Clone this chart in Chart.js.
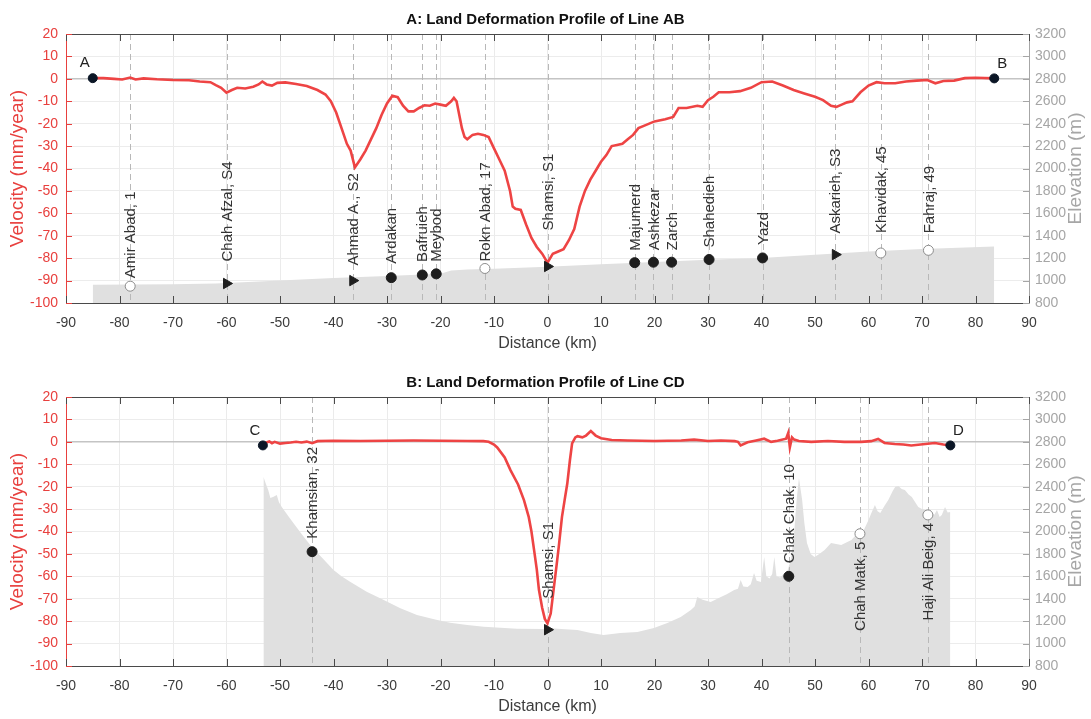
<!DOCTYPE html>
<html><head><meta charset="utf-8">
<script src="https://cdn.jsdelivr.net/npm/chart.js@4.4.1/dist/chart.umd.min.js"></script>
<style>
html,body{margin:0;padding:0;background:#fff;overflow:hidden;}
#wrap{position:relative;width:1091px;height:719px;overflow:hidden;background:#fff;}
.pane{position:absolute;left:0;width:1091px;height:363px;}
</style></head><body>
<div id="wrap">
<div class="pane" style="top:0"><canvas id="cA" width="1091" height="363"></canvas></div>
<div class="pane" style="top:363px"><canvas id="cB" width="1091" height="363"></canvas></div>
</div>
<script>
// ---------- tick labels ----------
const distanceTicks = [-90,-80,-70,-60,-50,-40,-30,-20,-10,0,10,20,30,40,50,60,70,80,90];
const velocityTicks = [-100,-90,-80,-70,-60,-50,-40,-30,-20,-10,0,10,20];
const elevationTicks = [800,1000,1200,1400,1600,1800,2000,2200,2400,2600,2800,3000,3200];

// ---------- Panel A: line AB ----------
const distanceAB = [-85,-83,-81,-79.5,-78,-77,-75.5,-73,-70,-67,-65,-63,-62,-61,-60,-59,-58,-56.5,-55,-54,-53.3,-52.5,-51.5,-50.5,-49,-47,-45,-43,-41.5,-40.5,-39.5,-38.5,-37.5,-36.8,-36,-35,-34,-33,-32,-31,-30,-29,-28,-27,-26,-25,-24,-23,-22,-21,-20,-19,-18,-17.5,-17,-16.5,-16,-15.5,-15,-14,-13,-12,-11,-10,-9,-8,-7,-6.5,-6,-5,-4,-3,-2,-1,0,1,2,3,4,5,6,7,8,9,10,11,12,13,14,15,16,17,18,20,22,23.5,24.5,26,28,29,30,31,32,34,36,38,40,42,44,46,48,50,51.5,53,54,55,56,57,58.5,60,61.5,63,65,67,69,71,72.5,74,76,78,80,83.5];
const velocityAB = [0.3,0.3,0,-0.3,0.6,-0.3,0.2,-0.2,-0.5,-0.6,-1.2,-1.5,-2.8,-4,-6.2,-5,-4,-4.3,-3.5,-2.5,-1.2,-2.5,-3,-1.8,-1.6,-2.3,-3.2,-5,-7,-10,-15,-22,-29,-32,-39.5,-36,-32,-27,-22,-16,-11,-7.5,-8.2,-12,-14.5,-14.5,-13,-11.8,-12,-11,-11.5,-12,-10,-8.5,-10,-16,-22,-26,-27,-25,-24.5,-25,-26,-31,-36,-41,-50,-57,-58,-58.5,-65,-71,-75,-78,-82,-78,-77,-76,-72,-67,-57,-50,-45,-41,-37,-34,-30,-29.5,-29,-27,-25,-22,-21,-19,-18,-17,-13,-13,-12,-12.5,-9.5,-8,-6,-6,-5.5,-4,-1.5,-1.2,-3,-5,-6.5,-8,-9.5,-12,-12.5,-11.5,-10.5,-10,-6,-3,-1.5,-2,-2,-1.2,-0.8,-0.5,-2,-1,-0.8,0.3,0.5,0.2];
const elevDistanceAB = [-85,-70,-62,-50,-40,-30,-20,-18,-15,-10,0,10,20,30,40,50,60,70,83.5];
const elevationAB = [963,968,975,1000,1023,1040,1060,1090,1100,1105,1124,1145,1165,1185,1201,1230,1260,1282,1305];
const stationNamesAB = ['Amir Abad, 1','Chah Afzal, S4','Ahmad A., S2','Ardakan','Bafruieh','Meybod','Rokn Abad, 17','Shamsi, S1','Majumerd','Ashkezar','Zarch','Shahedieh','Yazd','Askarieh, S3','Khavidak, 45','Fahraj, 49'];
const stationDistAB = [-78,-60,-36.4,-29.2,-23.4,-20.8,-11.7,0,16.3,19.8,23.2,30.2,40.2,53.8,62.3,71.2];
const stationVelAB = [-92.5,-91.3,-90,-88.7,-87.5,-87,-84.6,-83.7,-82,-81.8,-81.8,-80.6,-79.9,-78.4,-77.7,-76.5];
const stationTypeAB = ['open','tri','tri','dot','dot','dot','open','tri','dot','dot','dot','dot','dot','tri','open','open'];
const endpointNamesAB = ['A','B'];
const endpointDistAB = [-85,83.5];
const endpointVelAB = [0.3,0.2];

// ---------- Panel B: line CD ----------
const distanceCD = [-53.2,-52.5,-52,-51.5,-51,-50,-49,-48,-47,-46,-45,-44,-43,-40,-35,-30,-25,-20,-15,-12,-11,-10,-9.4,-8,-6.9,-5.5,-4.4,-3.5,-3,-2.5,-2,-1.6,-1,-0.5,0,0.6,1.2,1.7,2.1,2.7,3.2,3.7,4.2,4.6,5.2,5.6,6.5,7.2,8.1,9,10,12,15,20,25,27.4,30,32.4,35,35.6,36.1,37.4,39,40.5,41.8,43,44.6,45,45.3,45.7,46.1,47,49.3,52.4,55.5,58.6,60.5,61.8,63,64.9,66.5,68,70.6,72.4,74,75.3];
const velocityCD = [-1.6,-0.3,0.2,-0.6,0,-0.8,-0.5,-0.3,0,-0.3,0.1,-0.6,0.3,0.5,0.4,0.5,0.6,0.5,0.4,0.3,0,-1.2,-2.5,-7,-12.7,-19,-26,-33.6,-40,-48.4,-57,-66,-74,-79,-81,-76.6,-64.8,-55,-47,-33.6,-26,-18.6,-8,-0.7,2,2.5,2,2.8,4.8,2.8,1.6,0.8,0.6,0.4,0.6,1,0.4,0.6,0.3,0,-1.6,-0.2,0.6,1.4,0,0.5,1.4,4,-2.5,2,1,0.4,0,0.4,0,0,0.3,1.3,-0.5,-1,-1.2,-1.6,-1,-0.5,-1.2,-1.6];
const elevDistanceCD = [-53.1,-52.6,-52.2,-51.8,-51.2,-50.6,-50.2,-49.7,-48.5,-47.5,-46,-44.1,-42,-40,-38.5,-36.9,-33.8,-30.6,-27.5,-24.4,-21,-18.2,-15,-11.9,-8,-5.7,-0.7,0,2.6,5.6,8.1,10.5,13.6,16.8,19.9,22.4,24.9,26.8,27.5,28,28.6,29,30.5,32.4,33.5,34.9,35.6,36.1,36.6,37.4,38,38.6,39.1,39.9,40.5,40.9,41.5,42,42.4,42.8,43.5,44.9,45.5,46.1,46.6,47,47.6,48,48.5,49.2,49.9,50.8,51.8,53,54.9,56.8,58,59,60,60.5,61.2,61.7,62.2,63,63.7,64.5,65,65.6,66.2,66.8,67.5,68.1,69.3,70,70.6,71.8,72.3,72.8,73.3,73.7,74.3,74.8,75.3];
const elevationCD = [2489,2420,2370,2300,2310,2325,2260,2221,2140,2076,1980,1864,1760,1656,1600,1552,1463,1389,1315,1255,1215,1186,1165,1151,1140,1133,1130,1139,1130,1121,1094,1077,1094,1103,1139,1184,1237,1300,1330,1415,1400,1390,1371,1415,1440,1478,1490,1567,1510,1505,1530,1630,1560,1550,1772,1600,1580,1620,1772,1600,1590,1656,1750,1986,2300,2477,2281,2080,1897,1800,1772,1800,1835,1897,1879,1924,1986,2000,2102,2160,2236,2180,2165,2230,2281,2360,2400,2406,2380,2370,2330,2308,2218,2200,2192,2165,2150,2192,2130,2147,2218,2170,2174];
const stationNamesCD = ['Khamsian, 32','Shamsi, S1','Chak Chak, 10','Chah Matk, 5','Haji Ali Beig, 4'];
const stationDistCD = [-44,0,45.1,58.4,71.1];
const stationVelCD = [-49,-83.8,-60,-41,-32.6];
const stationTypeCD = ['dot','tri','dot','open','open'];
const endpointNamesCD = ['C','D'];
const endpointDistCD = [-53.2,75.3];
const endpointVelCD = [-1.6,-1.6];

// ---------- style (label placement, not data) ----------
const labelGapAB = [8,22,15,14,13,12,7,36,12,12,12,12,13,21,20,17];
const labelSideAB = stationNamesAB.map(() => 'above');
const labelGapCD = [13,31,13,8,8];
const labelSideCD = ['above','above','above','below','below'];

const FONT = "'Liberation Sans', Arial, Helvetica, sans-serif";
Chart.defaults.font.family = FONT;
const RED = '#e8403e', GREY = '#a6a6a6', DARK = '#3c3c3c';

function pts(xs, ys){ return xs.map((x,i)=>({x:x, y:ys[i]})); }

function overlay(p){
  return {
    id: 'overlay',
    beforeDatasetDraw(chart, args){
      if (args.index !== 2) return;
      const {ctx, chartArea:a, scales:{x}} = chart;
      ctx.save();
      ctx.beginPath(); ctx.rect(a.left, a.top, a.right-a.left, a.bottom-a.top); ctx.clip();
      ctx.strokeStyle = '#b8b8b8'; ctx.lineWidth = 1; ctx.setLineDash([6,4]);
      p.sDist.forEach(d => {
        const px = Math.round(x.getPixelForValue(d)) + 0.5;
        ctx.beginPath(); ctx.moveTo(px, a.top); ctx.lineTo(px, a.bottom); ctx.stroke();
      });
      ctx.restore();
    },
    afterDatasetsDraw(chart){
      const {ctx, scales:{x, y}} = chart;
      ctx.save();
      ctx.fillStyle = '#333';
      ctx.font = '15px ' + FONT;
      ctx.textBaseline = 'middle';
      p.sNames.forEach((n,i) => {
        const px = x.getPixelForValue(p.sDist[i]) + 1;
        const py = y.getPixelForValue(p.sVel[i]);
        ctx.save();
        if (p.side[i] === 'above') {
          ctx.translate(px, py - p.gap[i]); ctx.rotate(-Math.PI/2); ctx.textAlign = 'left';
        } else {
          ctx.translate(px, py + p.gap[i]); ctx.rotate(-Math.PI/2); ctx.textAlign = 'right';
        }
        ctx.fillText(n, 0, 0);
        ctx.restore();
      });
      ctx.fillStyle = '#222';
      ctx.font = '15px ' + FONT;
      ctx.textAlign = 'center';
      p.eNames.forEach((n,i) => {
        const px = x.getPixelForValue(p.eDist[i]);
        const py = y.getPixelForValue(p.eVel[i]);
        ctx.fillText(n, px + (i === 0 ? -8 : 8), py - 15);
      });
      ctx.restore();
    },
    afterDraw(chart){
      const {ctx, chartArea:a, scales:{x, y, y2}} = chart;
      ctx.save();
      ctx.lineWidth = 1;
      ctx.strokeStyle = '#4a4a4a';
      ctx.beginPath(); ctx.moveTo(a.left, a.top + 0.5); ctx.lineTo(a.right, a.top + 0.5); ctx.stroke();
      distanceTicks.forEach(v => {
        const px = Math.round(x.getPixelForValue(v)) + 0.5;
        ctx.beginPath(); ctx.moveTo(px, a.top); ctx.lineTo(px, a.top + 7);
        ctx.moveTo(px, a.bottom); ctx.lineTo(px, a.bottom - 7); ctx.stroke();
      });
      ctx.strokeStyle = RED;
      velocityTicks.forEach(v => {
        const py = Math.round(y.getPixelForValue(v)) + 0.5;
        ctx.beginPath(); ctx.moveTo(a.left, py); ctx.lineTo(a.left + 6, py); ctx.stroke();
      });
      ctx.strokeStyle = GREY;
      elevationTicks.forEach(v => {
        const py = Math.round(y2.getPixelForValue(v)) + 0.5;
        ctx.beginPath(); ctx.moveTo(a.right, py); ctx.lineTo(a.right - 6, py); ctx.stroke();
      });
      ctx.fillStyle = GREY;
      ctx.font = '19px ' + FONT;
      ctx.textAlign = 'center'; ctx.textBaseline = 'middle';
      ctx.translate(1076, (a.top + a.bottom)/2);
      ctx.rotate(-Math.PI/2);
      ctx.fillText('Elevation (m)', 0, 0);
      ctx.restore();
    }
  };
}

function build(canvasId, title, p){
  const markerStyle = {
    pointStyle: c => p.sType[c.dataIndex] === 'tri' ? 'triangle' : 'circle',
    pointRotation: c => p.sType[c.dataIndex] === 'tri' ? 90 : 0,
    pointRadius: c => p.sType[c.dataIndex] === 'tri' ? 6 : 5,
    pointBackgroundColor: c => p.sType[c.dataIndex] === 'open' ? '#ffffff' : '#1e1e1e',
    pointBorderColor: c => p.sType[c.dataIndex] === 'open' ? '#8c8c8c' : '#1e1e1e',
    pointBorderWidth: 1
  };
  return new Chart(document.getElementById(canvasId), {
    type: 'line',
    data: {
      datasets: [
        Object.assign({ label:'stations', data: pts(p.sDist, p.sVel), yAxisID:'y', showLine:false }, markerStyle),
        { label:'ends', data: pts(p.eDist, p.eVel), yAxisID:'y', showLine:false, pointRadius:4.5, pointBackgroundColor:'#0b1626', pointBorderColor:'#0b1626' },
        { label:'velocity', data: pts(p.dist, p.vel), yAxisID:'y', borderColor:'#ee4444', borderWidth:2.6, pointRadius:0, tension:0, fill:false },
        { label:'elevation', data: pts(p.eD, p.elev), yAxisID:'y2', borderWidth:0, borderColor:'rgba(0,0,0,0)', backgroundColor:'#e0e0e0', pointRadius:0, tension:0, fill:'start' }
      ]
    },
    options: {
      responsive:false, animation:false, devicePixelRatio:1,
      layout:{ padding:0 },
      plugins:{
        legend:{display:false}, tooltip:{enabled:false},
        title:{ display:true, text:title, color:'#111', font:{size:15, weight:'bold'}, padding:{top:11, bottom:5} }
      },
      scales:{
        x:{ type:'linear', position:'bottom', min:-90, max:90,
            afterBuildTicks: s => { s.ticks = distanceTicks.map(v => ({value:v})); },
            ticks:{ color:DARK, font:{size:14}, padding:12, maxRotation:0, autoSkip:false, callback: v => String(v) },
            grid:{ color:'#ebebeb', drawTicks:false },
            border:{ color:'#4a4a4a' },
            title:{ display:true, text:'Distance (km)', color:DARK, font:{size:16}, padding:{top:0, bottom:10} },
            afterFit: s => { s.height = 60; } },
        y:{ type:'linear', position:'left', min:-100, max:20,
            afterBuildTicks: s => { s.ticks = velocityTicks.map(v => ({value:v})); },
            ticks:{ color:RED, font:{size:14}, padding:8, callback: v => String(v) },
            grid:{ color: c => c.tick && c.tick.value === 0 ? '#c4c4c4' : '#ececec', lineWidth: c => c.tick && c.tick.value === 0 ? 1.6 : 1, drawTicks:false },
            border:{ color:RED },
            title:{ display:true, text:'Velocity (mm/year)', color:RED, font:{size:19}, padding:{top:6, bottom:0} },
            afterFit: s => { s.width = 66; } },
        y2:{ type:'linear', position:'right', min:800, max:3200,
            afterBuildTicks: s => { s.ticks = elevationTicks.map(v => ({value:v})); },
            ticks:{ color:GREY, font:{size:14}, padding:6, callback: v => String(v) },
            grid:{ drawOnChartArea:false, drawTicks:false },
            border:{ color:GREY },
            afterFit: s => { s.width = 62; } }
      }
    },
    plugins:[ overlay(p) ]
  });
}

build('cA', 'A: Land Deformation Profile of Line AB', {
  dist:distanceAB, vel:velocityAB, eD:elevDistanceAB, elev:elevationAB,
  sNames:stationNamesAB, sDist:stationDistAB, sVel:stationVelAB, sType:stationTypeAB,
  eNames:endpointNamesAB, eDist:endpointDistAB, eVel:endpointVelAB,
  gap:labelGapAB, side:labelSideAB
});
build('cB', 'B: Land Deformation Profile of Line CD', {
  dist:distanceCD, vel:velocityCD, eD:elevDistanceCD, elev:elevationCD,
  sNames:stationNamesCD, sDist:stationDistCD, sVel:stationVelCD, sType:stationTypeCD,
  eNames:endpointNamesCD, eDist:endpointDistCD, eVel:endpointVelCD,
  gap:labelGapCD, side:labelSideCD
});
</script>
</body></html>
